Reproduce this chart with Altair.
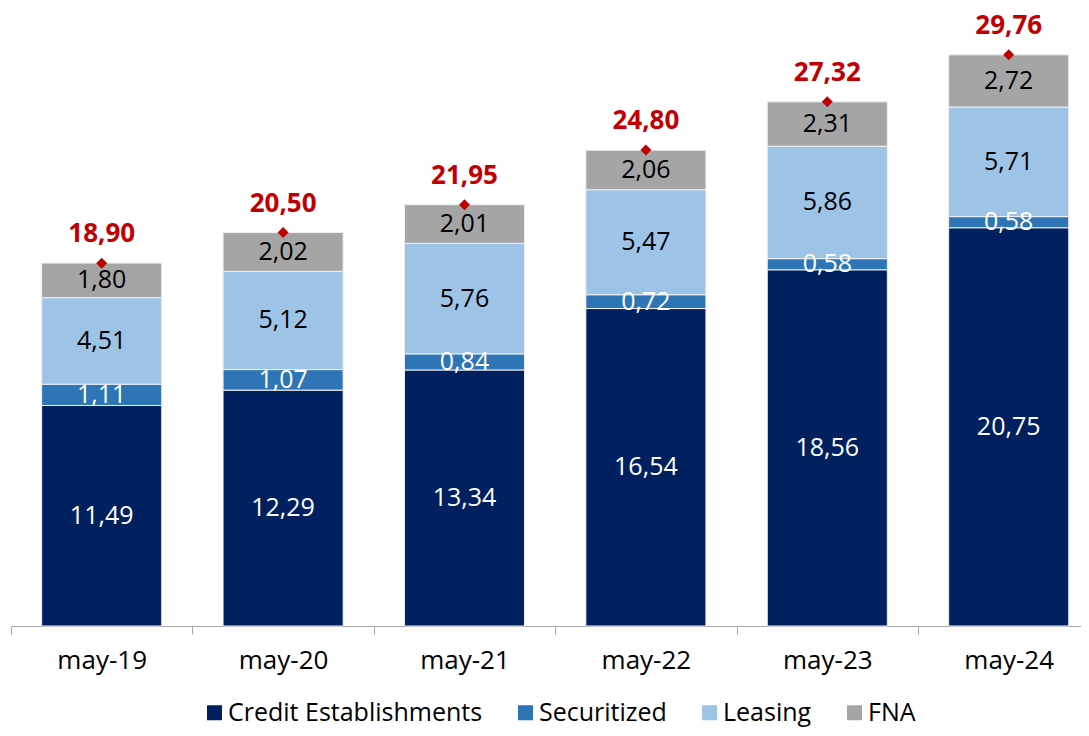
import altair as alt
import pandas as pd

cats = ["may-19", "may-20", "may-21", "may-22", "may-23", "may-24"]
series = ["Credit Establishments", "Securitized", "Leasing", "FNA"]
credit = [11.49, 12.29, 13.34, 16.54, 18.56, 20.75]
secur = [1.11, 1.07, 0.84, 0.72, 0.58, 0.58]
leasing = [4.51, 5.12, 5.76, 5.47, 5.86, 5.71]
fna = [1.80, 2.02, 2.01, 2.06, 2.31, 2.72]
totals = [18.90, 20.50, 21.95, 24.80, 27.32, 29.76]

colors = ["#002060", "#2E75B6", "#9DC3E6", "#A5A5A5"]
label_colors = ["#FFFFFF", "#FFFFFF", "#000000", "#000000"]

def fmt(v):
    return f"{v:.2f}".replace(".", ",")

rows = []
for si, (name, vals) in enumerate(zip(series, [credit, secur, leasing, fna])):
    for c, v in zip(cats, vals):
        rows.append({"cat": c, "series": name, "value": v, "order": si,
                     "label": fmt(v), "lc": label_colors[si]})
df = pd.DataFrame(rows)
tdf = pd.DataFrame({"cat": cats, "total": totals, "label": [fmt(t) for t in totals]})

FONT = "Open Sans"
ymax = 32.2
PI = 0.338
STEP = 181.4
HALF_GAP = PI * STEP / 2

xscale = alt.Scale(range=[0, STEP * 6], paddingInner=PI, paddingOuter=PI / 2)
xenc = alt.X("cat:N", sort=cats, title=None, scale=xscale,
             axis=alt.Axis(labelAngle=0, labelFontSize=26, labelColor="#000000",
                           labelFont=FONT, bandPosition=0, tickExtra=True,
                           tickOffset=-HALF_GAP, labelOffset=HALF_GAP,
                           tickSize=8, tickColor="#A6A6A6", domainColor="#A6A6A6",
                           labelPadding=13, grid=False))
yscale = alt.Scale(domain=[0, ymax], nice=False, zero=True)

base = alt.Chart(df).transform_stack(
    stack="value", groupby=["cat"], sort=[alt.SortField("order")], as_=["y0", "y1"]
).transform_calculate(mid="(datum.y0 + datum.y1) / 2")

bars = base.mark_bar(stroke="#F0F0F0", strokeWidth=1).encode(
    x=xenc,
    y=alt.Y("y0:Q", scale=yscale, axis=None),
    y2="y1:Q",
    color=alt.Color("series:N", sort=series,
                    scale=alt.Scale(domain=series, range=colors),
                    legend=alt.Legend(title=None, orient="none", direction="horizontal",
                                      legendX=191, legendY=692,
                                      symbolType="square", symbolSize=225,
                                      symbolStrokeWidth=0, labelFontSize=25,
                                      labelFont=FONT, labelColor="#000000",
                                      labelLimit=0,
                                      columnPadding=30, labelOffset=1)),
)

seg_text = base.mark_text(fontSize=25, font=FONT, baseline="middle").encode(
    x=alt.X("cat:N", sort=cats, scale=xscale),
    y=alt.Y("mid:Q", scale=yscale),
    text="label:N",
    color=alt.Color("lc:N", scale=None, legend=None),
)

tot_pts = alt.Chart(tdf).mark_point(shape="diamond", filled=True, size=120,
                                    color="#C00000", opacity=1).encode(
    x=alt.X("cat:N", sort=cats, scale=xscale),
    y=alt.Y("total:Q", scale=yscale),
)
tot_text = alt.Chart(tdf).mark_text(fontSize=26, font=FONT, fontWeight="bold",
                                    color="#C00000", dy=-29, baseline="middle").encode(
    x=alt.X("cat:N", sort=cats, scale=xscale),
    y=alt.Y("total:Q", scale=yscale),
    text="label:N",
)

chart = alt.layer(bars, seg_text, tot_pts, tot_text).properties(
    width=1070, height=618,
    autosize=alt.AutoSizeParams(type="none"),
    padding={"left": 3, "top": 0, "right": 0, "bottom": 102},
).configure_view(stroke=None)

chart.save("out.html", embed_options={"renderer": "svg", "actions": False})
